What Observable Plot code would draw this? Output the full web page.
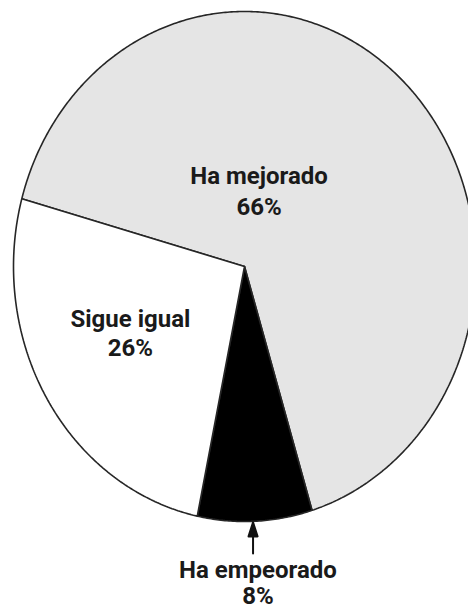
<!DOCTYPE html>
<html>
<head>
<meta charset="utf-8">
<script src="https://cdn.jsdelivr.net/npm/d3@7"></script>
<script src="https://cdn.jsdelivr.net/npm/@observablehq/plot@0.6"></script>
<style>
  html, body { margin: 0; padding: 0; background: #fff; }
  #chart svg { display: block; }
</style>
</head>
<body>
<div id="chart"></div>
<script>
// Data
const categories = ["Ha mejorado", "Ha empeorado", "Sigue igual"];
const values = [66, 8, 26];
const fills = ["#e5e5e5", "#000000", "#ffffff"];

// Layout (normalized ellipse coordinates, not data)
const startAngleDeg = -74.6;
const labelPos = [
  {x: 0.063, y: 0.408, lh: 1.29},
  {x: 0.058, y: -1.149, lh: 1.08},
  {x: -0.494, y: -0.157, lh: 1.2}
];
const arrowPos = {x: 0.037, y: -1.125};

// Build slices from data
const total = d3.sum(values);
let acc = 0;
const slices = categories.map((c, i) => {
  const a0 = startAngleDeg + acc / total * 360;
  acc += values[i];
  const a1 = startAngleDeg + acc / total * 360;
  return {category: c, value: values[i], fill: fills[i], a0, a1};
});

function slicePoints(s) {
  const pts = [{x: 0, y: 0}];
  const n = Math.max(2, Math.ceil((s.a1 - s.a0) / 0.5));
  for (let k = 0; k <= n; k++) {
    const a = (s.a0 + (s.a1 - s.a0) * k / n) * Math.PI / 180;
    pts.push({x: Math.sin(a), y: Math.cos(a)});
  }
  pts.push({x: 0, y: 0});
  return pts;
}

const labels = slices.map((s, i) => ({
  text: `${s.category}\n${s.value}%`,
  x: labelPos[i].x,
  y: labelPos[i].y,
  lh: labelPos[i].lh
}));

const chart = Plot.plot({
  width: 468,
  height: 613,
  margin: 0,
  x: {domain: [-1, 1], range: [13, 475], axis: null},
  y: {domain: [-1, 1], range: [521, 11], axis: null},
  marks: [
    ...slices.map(s => Plot.line(slicePoints(s), {
      x: "x", y: "y", fill: s.fill, stroke: "#262626", strokeWidth: 1.6, strokeLinejoin: "miter"
    })),
    ...labels.map(l => Plot.text([l], {
      x: "x", y: "y", text: "text",
      fontFamily: "Roboto", fontWeight: "bold", fontSize: 24,
      lineAnchor: "top", lineHeight: l.lh, textAnchor: "middle", fill: "#1a1a1a"
    })),
    Plot.vector([arrowPos], {
      x: "x", y: "y", length: 31, rotate: 0, anchor: "start",
      fill: "#111", stroke: "#111", strokeWidth: 2,
      shape: {
        draw(context, l) {
          context.moveTo(0, 0);
          context.lineTo(0, -l + 12);
          context.moveTo(-4.5, -l + 14);
          context.lineTo(0, -l);
          context.lineTo(4.5, -l + 14);
          context.closePath();
        }
      }
    })
  ]
});
document.getElementById("chart").appendChild(chart);
</script>
</body>
</html>
